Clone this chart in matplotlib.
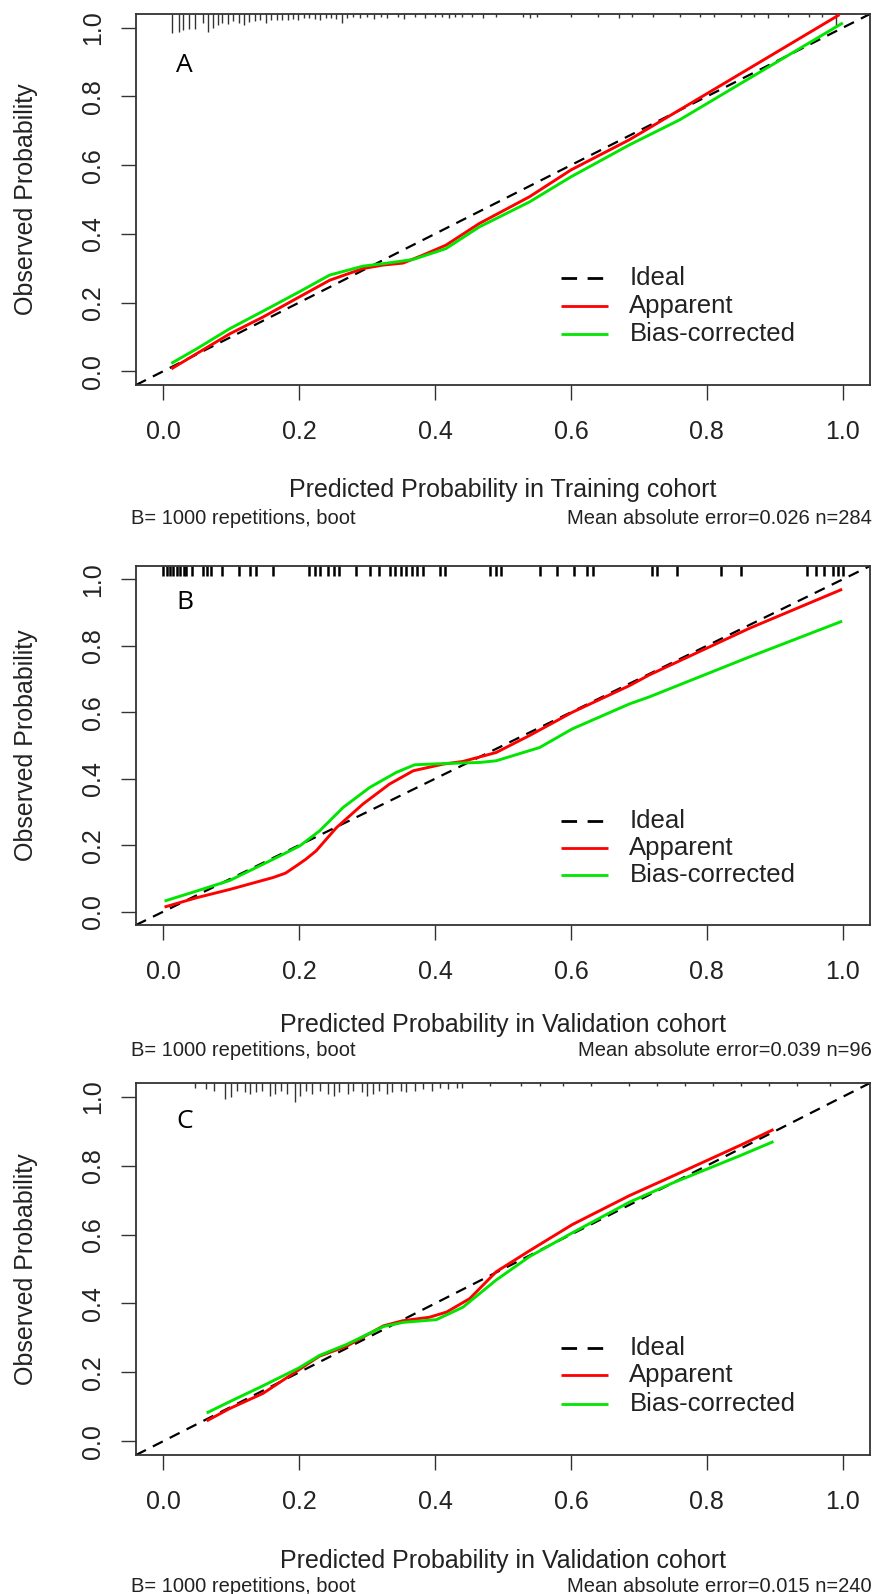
import matplotlib
matplotlib.use("Agg")
import matplotlib.pyplot as plt

# figure size in pixels
W, H = 874, 1594

# ---- calibration curves (predicted vs observed) ----
# A: training cohort
a_app_x = [0.012, 0.049, 0.098, 0.147, 0.200, 0.245, 0.294, 0.323, 0.353, 0.382, 0.416, 0.465, 0.539, 0.600, 0.686, 0.760, 0.850, 0.995]
a_app_y = [0.007, 0.051, 0.109, 0.158, 0.216, 0.265, 0.299, 0.309, 0.315, 0.338, 0.367, 0.430, 0.508, 0.586, 0.674, 0.761, 0.867, 1.038]
a_bc_x = [0.012, 0.049, 0.098, 0.147, 0.200, 0.245, 0.294, 0.323, 0.367, 0.416, 0.465, 0.539, 0.600, 0.686, 0.760, 0.850, 1.000]
a_bc_y = [0.023, 0.065, 0.124, 0.175, 0.231, 0.280, 0.306, 0.313, 0.325, 0.357, 0.420, 0.493, 0.566, 0.659, 0.732, 0.838, 1.014]

# B: validation cohort (n=96)
b_app_x = [0.002, 0.049, 0.098, 0.162, 0.180, 0.196, 0.210, 0.225, 0.255, 0.294, 0.333, 0.368, 0.412, 0.441, 0.490, 0.539, 0.602, 0.686, 0.715, 0.862, 0.999]
b_app_y = [0.014, 0.042, 0.067, 0.103, 0.116, 0.138, 0.158, 0.183, 0.253, 0.324, 0.384, 0.424, 0.444, 0.452, 0.479, 0.530, 0.600, 0.680, 0.712, 0.852, 0.970]
b_bc_x = [0.002, 0.049, 0.098, 0.162, 0.201, 0.230, 0.265, 0.304, 0.343, 0.370, 0.417, 0.466, 0.490, 0.554, 0.602, 0.686, 0.715, 0.862, 0.999]
b_bc_y = [0.032, 0.062, 0.094, 0.158, 0.198, 0.243, 0.314, 0.374, 0.419, 0.442, 0.446, 0.449, 0.454, 0.494, 0.550, 0.625, 0.646, 0.766, 0.874]

# C: validation cohort (n=240)
c_app_x = [0.064, 0.098, 0.147, 0.200, 0.230, 0.270, 0.324, 0.353, 0.392, 0.417, 0.451, 0.490, 0.539, 0.602, 0.686, 0.750, 0.800, 0.850, 0.898]
c_app_y = [0.059, 0.095, 0.139, 0.208, 0.247, 0.276, 0.335, 0.350, 0.360, 0.375, 0.414, 0.492, 0.553, 0.629, 0.713, 0.770, 0.815, 0.860, 0.905]
c_bc_x = [0.064, 0.098, 0.147, 0.200, 0.230, 0.270, 0.324, 0.353, 0.402, 0.441, 0.490, 0.539, 0.602, 0.686, 0.750, 0.800, 0.850, 0.898]
c_bc_y = [0.082, 0.115, 0.161, 0.213, 0.249, 0.281, 0.333, 0.345, 0.353, 0.389, 0.468, 0.536, 0.605, 0.694, 0.750, 0.790, 0.830, 0.870]

# ---- distribution of predicted risk shown along the top ----
a_rug_x = [0.013, 0.023, 0.029, 0.038, 0.047, 0.058, 0.066, 0.073, 0.080, 0.087,
           0.095, 0.103, 0.111, 0.119, 0.127, 0.135, 0.143, 0.151, 0.159, 0.167,
           0.175, 0.183, 0.191, 0.199, 0.207, 0.215, 0.223, 0.231, 0.239, 0.247,
           0.255, 0.263, 0.271, 0.279, 0.290, 0.300, 0.310, 0.320, 0.330, 0.345,
           0.355, 0.370, 0.385, 0.400, 0.410, 0.420, 0.430, 0.440, 0.455, 0.470,
           0.490, 0.530, 0.540, 0.550, 0.600, 0.640, 0.670, 0.690, 0.720, 0.760,
           0.790, 0.810, 0.850, 0.870, 0.890, 0.920, 0.950, 0.970, 0.990]
a_rug_n = [19, 18, 16, 15, 15, 9, 18, 14, 11, 9,
           10, 7, 9, 11, 8, 7, 6, 9, 6, 6,
           6, 6, 5, 6, 4, 4, 5, 6, 4, 4,
           5, 9, 4, 3, 4, 3, 5, 3, 4, 3,
           5, 3, 4, 3, 3, 4, 3, 3, 3, 4,
           3, 3, 4, 3, 3, 3, 4, 3, 3, 3,
           3, 3, 3, 3, 4, 3, 3, 3, 12]

b_rug_x = [0.000, 0.005, 0.010, 0.015, 0.020, 0.025, 0.030, 0.034, 0.042, 0.059,
           0.064, 0.071, 0.087, 0.112, 0.128, 0.137, 0.161, 0.214, 0.223, 0.231,
           0.243, 0.251, 0.259, 0.284, 0.304, 0.317, 0.333, 0.341, 0.350, 0.358,
           0.366, 0.374, 0.383, 0.407, 0.415, 0.481, 0.489, 0.497, 0.555, 0.579,
           0.604, 0.624, 0.632, 0.719, 0.727, 0.756, 0.821, 0.850, 0.948, 0.960,
           0.973, 0.985, 0.993, 1.000]

c_rug_x = [0.047, 0.063, 0.075, 0.091, 0.100, 0.108, 0.120, 0.128, 0.137, 0.145,
           0.157, 0.165, 0.173, 0.182, 0.194, 0.202, 0.210, 0.219, 0.231, 0.243,
           0.251, 0.259, 0.272, 0.280, 0.292, 0.300, 0.309, 0.317, 0.329, 0.337,
           0.350, 0.358, 0.370, 0.383, 0.395, 0.407, 0.419, 0.432, 0.440, 0.481,
           0.526, 0.555, 0.588, 0.629, 0.686, 0.727, 0.768, 0.809, 0.850, 0.891,
           0.932, 0.981]
c_rug_n = [3, 4, 5, 10, 9, 5, 6, 7, 6, 5,
           8, 7, 5, 7, 12, 8, 5, 7, 5, 7,
           8, 6, 7, 5, 6, 8, 7, 5, 7, 6,
           5, 6, 5, 4, 5, 3, 4, 3, 3, 2,
           2, 2, 2, 2, 2, 2, 2, 2, 2, 2,
           2, 2]

ticks = [0.0, 0.2, 0.4, 0.6, 0.8, 1.0]
tick_labels = ["0.0", "0.2", "0.4", "0.6", "0.8", "1.0"]
legend_labels = ["Ideal", "Apparent", "Bias-corrected"]

panels = [
    dict(letter="A", app=(a_app_x, a_app_y), bc=(a_bc_x, a_bc_y), rug=(a_rug_x, a_rug_n),
         xlabel="Predicted Probability in Training cohort",
         note="Mean absolute error=0.026 n=284",
         top=14, bottom=385, xlab_y=490, sub_y=518, letter_y=0.89),
    dict(letter="B", app=(b_app_x, b_app_y), bc=(b_bc_x, b_bc_y), rug=(b_rug_x, None),
         xlabel="Predicted Probability in Validation cohort",
         note="Mean absolute error=0.039 n=96",
         top=566, bottom=925, xlab_y=1025, sub_y=1050, letter_y=0.929),
    dict(letter="C", app=(c_app_x, c_app_y), bc=(c_bc_x, c_bc_y), rug=(c_rug_x, c_rug_n),
         xlabel="Predicted Probability in Validation cohort",
         note="Mean absolute error=0.015 n=240",
         top=1083, bottom=1455, xlab_y=1561, sub_y=1586, letter_y=0.928),
]

plt.rcParams["font.family"] = ["Liberation Sans", "DejaVu Sans"]
fig = plt.figure(figsize=(W / 100, H / 100), dpi=100)

LEFT, RIGHT = 136, 870
RED, GREEN = "#ff0000", "#00e600"
TXT = "#222222"


def fx(px):
    return px / W


def fy(py):
    return 1 - py / H


for p in panels:
    ax = fig.add_axes([fx(LEFT), fy(p["bottom"]), (RIGHT - LEFT) / W, (p["bottom"] - p["top"]) / H])
    ax.set_xlim(-0.04, 1.04)
    ax.set_ylim(-0.04, 1.04)

    # ideal line
    ax.axline((0, 0), slope=1, color="black", lw=1.6, ls=(0, (5, 3.5)), zorder=2)
    ax.plot(*p["app"], color=RED, lw=2.1, zorder=3, solid_capstyle="butt")
    ax.plot(*p["bc"], color=GREEN, lw=2.1, zorder=3, solid_capstyle="butt")

    # rug / spike histogram hanging from the top border
    rx, rn = p["rug"]
    if rn is None:
        ax.vlines(rx, 1.04 - 0.03, 1.04, color="black", lw=1.8, zorder=1)
    else:
        top_n = max(rn)
        ax.vlines(rx, [1.04 - 0.055 * n / top_n for n in rn], 1.04, color="#333333", lw=1.0, zorder=1)

    ax.set_xticks(ticks)
    ax.set_xticklabels(tick_labels)
    ax.set_yticks(ticks)
    ax.set_yticklabels(tick_labels, rotation=90, va="center")
    ax.tick_params(direction="out", length=10.5, width=1.0, colors="#333333",
                   labelsize=18, labelcolor=TXT)
    ax.tick_params(axis="x", pad=15)
    ax.tick_params(axis="y", pad=12)
    for s in ax.spines.values():
        s.set_color("#333333")
        s.set_linewidth(1.3)

    # legend drawn by hand in data space
    rows = [0.272, 0.191, 0.109]
    styles = [dict(color="black", ls=(0, (5.6, 3.8)), lw=2.0),
              dict(color=RED, ls="-", lw=2.0),
              dict(color=GREEN, ls="-", lw=2.0)]
    for yy, lab, st in zip(rows, legend_labels, styles):
        ax.plot([0.585, 0.655], [yy, yy], solid_capstyle="butt", dash_capstyle="butt", **st)
        ax.text(0.686, yy, lab, fontsize=18.5, color=TXT, va="center", ha="left")

    ax.text(0.019, p["letter_y"], p["letter"], fontsize=19, family=["Open Sans", "DejaVu Sans"],
            color="black", va="center", ha="left")

    mid_y = (p["top"] + p["bottom"]) / 2
    fig.text(fx(26), fy(mid_y), "Observed Probability", rotation=90, fontsize=18,
             color=TXT, ha="center", va="center")
    fig.text(fx((LEFT + RIGHT) / 2), fy(p["xlab_y"]), p["xlabel"], fontsize=18,
             color=TXT, ha="center", va="center")
    fig.text(fx(131), fy(p["sub_y"]), "B= 1000 repetitions, boot", fontsize=14.5,
             color=TXT, ha="left", va="center")
    fig.text(fx(872), fy(p["sub_y"]), p["note"], fontsize=14.5,
             color=TXT, ha="right", va="center")

fig.savefig("out.png", dpi=100, facecolor="white")
